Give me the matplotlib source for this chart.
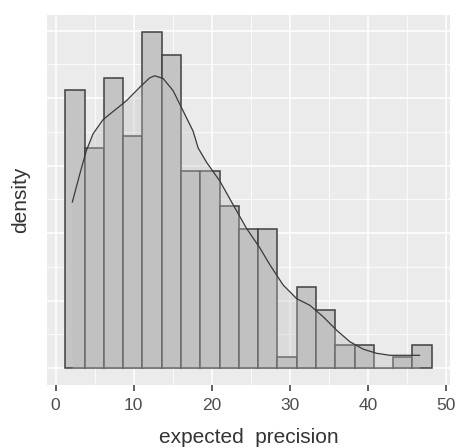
import numpy as np
import matplotlib
matplotlib.use("Agg")
import matplotlib.pyplot as plt
from matplotlib.ticker import MultipleLocator

plt.rcParams["font.family"] = ["Liberation Sans", "DejaVu Sans"]

# histogram: 19 equal bins over the data range, counts per bin
bin_lo, bin_hi = 1.24, 48.16
counts = [24, 19, 25, 20, 29, 27, 17, 17, 14, 12, 12, 1, 7, 5, 2, 2, 0, 1, 2]

# kernel density estimate, sampled along x
dens_x = [2.14, 3.08, 3.93, 4.79, 6.07, 7.35, 9.06, 10.77, 12.05, 12.69,
          13.76, 15.04, 16.32, 17.60, 18.25, 19.32, 21.03, 22.73, 24.44,
          26.15, 27.44, 28.29, 29.14, 30.00, 30.85, 32.56, 34.27, 35.99,
          37.69, 39.40, 41.10, 42.80, 44.50, 46.60]
dens_y = [0.0246, 0.0287, 0.0322, 0.0347, 0.0368, 0.0380, 0.0396, 0.0416,
          0.0430, 0.0433, 0.0429, 0.0411, 0.0381, 0.0351, 0.0326, 0.0305,
          0.0277, 0.0242, 0.0207, 0.0178, 0.0153, 0.0138, 0.0123, 0.0113,
          0.0103, 0.0093, 0.0076, 0.0056, 0.0039, 0.0028, 0.0022, 0.0019,
          0.0019, 0.0019]

xticks = [0, 10, 20, 30, 40, 50]

edges = np.linspace(bin_lo, bin_hi, len(counts) + 1)
width = edges[1] - edges[0]
counts = np.array(counts)
density = counts / (counts.sum() * width)

fig = plt.figure(figsize=(4.57, 4.48), dpi=100)
ax = fig.add_axes([0.1028, 0.1406, 0.8819, 0.8259])
ax.set_facecolor("#EBEBEB")
for s in ax.spines.values():
    s.set_visible(False)

ax.set_xlim(-1.11, 50.5)
ax.set_ylim(-0.0025, 0.0523)
ax.xaxis.set_major_locator(MultipleLocator(10))
ax.xaxis.set_minor_locator(MultipleLocator(5))
ax.yaxis.set_major_locator(MultipleLocator(0.01))
ax.yaxis.set_minor_locator(MultipleLocator(0.005))
ax.grid(which="major", color="white", linewidth=1.1)
ax.grid(which="minor", color="white", linewidth=0.55)
ax.set_axisbelow(True)

ax.bar(edges[:-1], density, width=width, align="edge",
       facecolor="#C4C4C4", edgecolor="#3F3F3F", linewidth=1.1, zorder=2)
ax.fill_between(dens_x, dens_y, 0, color="#BEBEBE", alpha=0.35,
                linewidth=0, zorder=3)
ax.plot(dens_x, dens_y, color="#3A3A3A", linewidth=0.9, zorder=4)

ax.set_xticks(xticks)
ax.set_xticklabels([str(t) for t in xticks], fontsize=12.5, color="#4D4D4D")
ax.tick_params(axis="x", which="major", length=4, width=1.1, color="#333333",
               pad=5)
ax.tick_params(axis="x", which="minor", length=0)
ax.tick_params(axis="y", which="both", length=0, labelleft=False)

ax.set_xlabel("expected  precision", fontsize=15, color="#333333", labelpad=11)
ax.set_ylabel("density", fontsize=15, color="#333333", labelpad=12)

fig.savefig("out.png", dpi=100, facecolor="white")
